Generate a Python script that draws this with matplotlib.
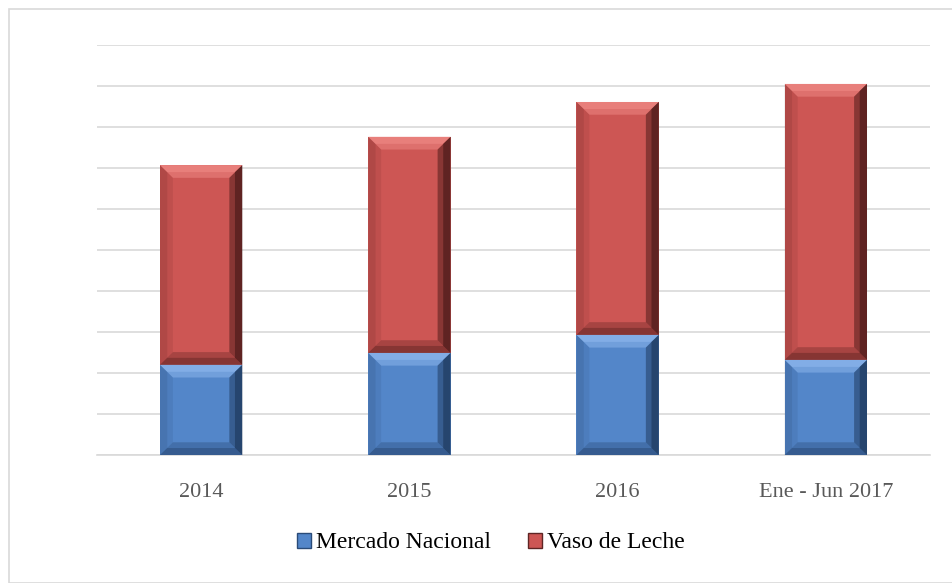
import numpy as np
import matplotlib.pyplot as plt
from matplotlib.patches import Rectangle, Polygon

categories = ['2014', '2015', '2016', 'Ene - Jun 2017']
mercado_nacional = [2.2, 2.49, 2.93, 2.32]
vaso_de_leche = [4.87, 5.27, 5.68, 6.73]

blue = '#5386C9'
red = '#CD5654'

plt.rcParams['font.family'] = ['Liberation Serif', 'DejaVu Serif']

fig = plt.figure(figsize=(9.53, 5.83), dpi=100)
fig.patches.append(Rectangle((9 / 953, 0), 1, 1 - 9 / 583, transform=fig.transFigure,
                             fill=False, edgecolor='#d9d9d9', linewidth=1.2))
ax = fig.add_axes([97 / 953, 128 / 583, 833 / 953, 410 / 583])

x = np.arange(len(categories))
width = 0.395


def band(ax, x0, x1, y0, y1, dx, dy, side, color, alpha):
    if side == 'top':
        pts = [(x0, y1), (x1, y1), (x1 - dx, y1 - dy), (x0 + dx, y1 - dy)]
    elif side == 'right':
        pts = [(x1, y1), (x1, y0), (x1 - dx, y0 + dy), (x1 - dx, y1 - dy)]
    elif side == 'bottom':
        pts = [(x0, y0), (x1, y0), (x1 - dx, y0 + dy), (x0 + dx, y0 + dy)]
    else:
        pts = [(x0, y0), (x0, y1), (x0 + dx, y1 - dy), (x0 + dx, y0 + dy)]
    ax.add_patch(Polygon(pts, facecolor=color, edgecolor='none', alpha=alpha, zorder=4))


def bevel(ax, xc, bottom, height, color, light, dark):
    x0, x1 = xc - width / 2, xc + width / 2
    y0, y1 = bottom, bottom + height
    ax.add_patch(Rectangle((x0, y0), width, height, facecolor=color, edgecolor='none', zorder=3))
    # two layered bands give a soft gradient
    for dx, dy, a in [(0.062, 0.31, 0.5), (0.035, 0.17, 0.6)]:
        band(ax, x0, x1, y0, y1, dx, dy, 'top', light, a)
        band(ax, x0, x1, y0, y1, dx, dy, 'right', dark, a)
        band(ax, x0, x1, y0, y1, dx, dy, 'bottom', dark, a * 0.55)
        band(ax, x0, x1, y0, y1, dx, dy, 'left', dark, a * 0.2)


for i in range(len(categories)):
    bevel(ax, x[i], 0, mercado_nacional[i], blue, '#8fb8ee', '#1c3558')
    bevel(ax, x[i], mercado_nacional[i], vaso_de_leche[i], red, '#f08a86', '#451716')

ax.set_xlim(-0.5, len(categories) - 0.5)
ax.set_ylim(0, 10)
ax.set_yticks(np.arange(0, 11, 1))
ax.set_yticklabels([])
ax.tick_params(axis='y', length=0)
ax.tick_params(axis='x', length=0, labelsize=16, labelcolor='#595959', pad=20)
ax.set_xticks(x)
ax.set_xticklabels(categories)
ax.grid(axis='y', color='#d9d9d9', linewidth=1.2, zorder=0)
ax.set_axisbelow(True)
for s in ['top', 'right', 'left']:
    ax.spines[s].set_visible(False)
ax.spines['bottom'].set_color('#d9d9d9')
ax.spines['bottom'].set_linewidth(1.2)

h1 = Rectangle((0, 0), 1, 1, facecolor=blue, edgecolor='#2a4b78')
h2 = Rectangle((0, 0), 1, 1, facecolor=red, edgecolor='#5e2524')
fig.legend([h1, h2], ['Mercado Nacional', 'Vaso de Leche'], loc='center',
           bbox_to_anchor=(0.515, 1 - 543 / 583), ncol=2, frameon=False,
           fontsize=17, handlelength=0.6, handleheight=0.6, handletextpad=0.2,
           columnspacing=1.6)

plt.savefig('out.png', dpi=100)
